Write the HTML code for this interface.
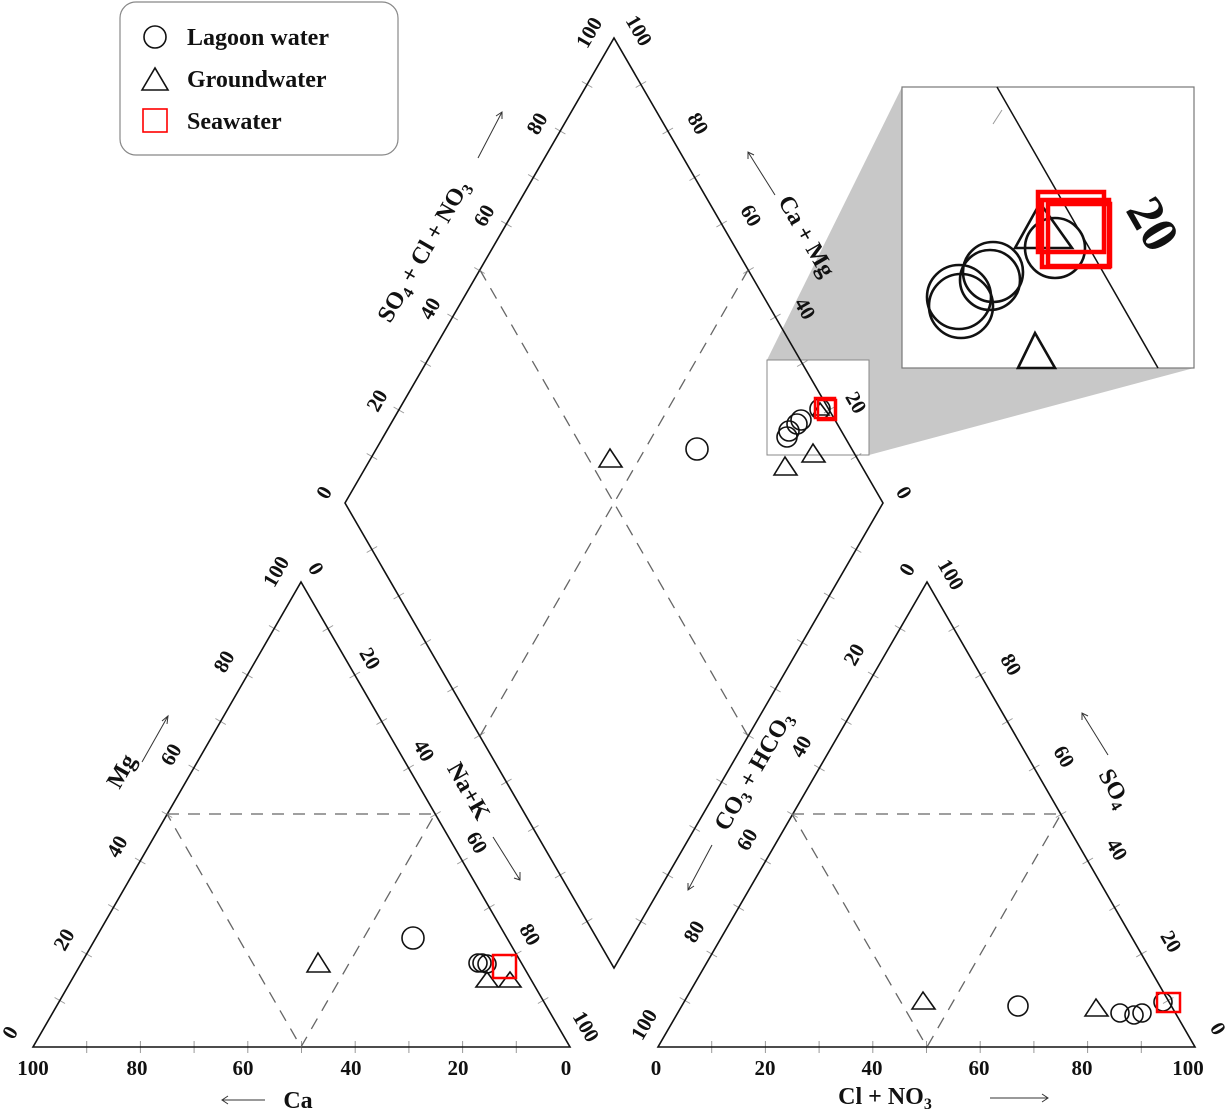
<!DOCTYPE html>
<html><head><meta charset="utf-8"><style>
html,body{margin:0;padding:0;background:#fff;}
svg{display:block;}
text{font-family:"Liberation Serif",serif;font-weight:bold;font-size:20px;fill:#111;}
.t{font-size:21px;}
</style></head><body>
<svg id="s" width="1228" height="1112" viewBox="0 0 1228 1112" xmlns="http://www.w3.org/2000/svg">
<!-- inset connector -->
<polygon points="767,360 902,87 1194,368 869,455" fill="#c8c8c8"/>
<rect x="767" y="360" width="102" height="95" fill="#fff" stroke="#888" stroke-width="1"/>
<rect x="902" y="87" width="292" height="281" fill="#fff" stroke="#777" stroke-width="1.2"/>
<line x1="997" y1="87" x2="1158" y2="368" stroke="#111" stroke-width="1.5"/>
<line x1="993" y1="124" x2="1002" y2="110" stroke="#999" stroke-width="1"/>
<g fill="none" stroke="#111" stroke-width="2.6">
<circle cx="959" cy="297" r="32"/><circle cx="961" cy="306" r="32"/>
<circle cx="990" cy="280" r="30"/><circle cx="993" cy="272" r="30"/>
<circle cx="1055" cy="248" r="30"/>
<polygon points="1018,368 1035,333 1055,368"/>
<polygon points="1015,248 1040,203 1072,248"/>
</g>
<g fill="none" stroke="#f00" stroke-width="4.5">
<rect x="1038" y="192" width="66" height="60"/><rect x="1042" y="200" width="67" height="67"/><rect x="1048" y="204" width="62" height="62"/>
</g>
<text x="1125" y="210" transform="rotate(60 1125 210)" style="font-size:52px">20</text>

<g id="ticks" stroke="#999" stroke-width="1"></g>
<!-- main outlines -->
<g fill="none" stroke="#111" stroke-width="1.6">
<polygon points="33,1047 570,1047 301,582"/>
<polygon points="658,1047 1195,1047 927,582"/>
<polygon points="345,503 614,38 883,503 614,968"/>
</g>
<g fill="none" stroke="#666" stroke-width="1.3" stroke-dasharray="12,9">
<polyline points="167,814 435,814 301,1047 167,814"/>
<polyline points="792,814 1061,814 927,1047 792,814"/>
<line x1="480" y1="270" x2="748" y2="736"/>
<line x1="748" y1="270" x2="480" y2="736"/>
</g>

<!-- legend -->
<rect x="120" y="2" width="278" height="153" rx="16" fill="#fff" stroke="#888" stroke-width="1.2"/>
<circle cx="155" cy="37" r="11" fill="none" stroke="#111" stroke-width="1.6"/>
<polygon points="142,90 155,68 168,90" fill="none" stroke="#111" stroke-width="1.6"/>
<rect x="143" y="109" width="24" height="23" fill="none" stroke="#f00" stroke-width="1.6"/>
<text x="187" y="45" style="font-size:24px">Lagoon water</text>
<text x="187" y="87" style="font-size:24px">Groundwater</text>
<text x="187" y="129" style="font-size:24px">Seawater</text>

<!-- data points -->
<g fill="none" stroke="#111" stroke-width="1.6">
<polygon points="599,467 610,449 622,467"/>
<circle cx="697" cy="449" r="11"/>
<polygon points="774,475 785,457 797,475"/>
<polygon points="802,462 813,444 825,462"/>
<circle cx="787" cy="437" r="10"/><circle cx="789" cy="431" r="10"/><circle cx="797" cy="424" r="10"/><circle cx="801" cy="420" r="10"/><circle cx="820" cy="409" r="10"/>
<polygon points="813,415 820,403 829,415"/>
<circle cx="413" cy="938" r="11"/>
<polygon points="307,972 318,953 330,972"/>
<circle cx="478" cy="963" r="9"/><circle cx="482" cy="963" r="9"/><circle cx="487" cy="964" r="9"/>
<polygon points="476,987 487,972 498,987"/><polygon points="499,987 510,972 521,987"/>
<polygon points="912,1009 923,992 935,1009"/>
<circle cx="1018" cy="1006" r="10"/>
<polygon points="1085,1016 1096,999 1108,1016"/>
<circle cx="1120" cy="1013" r="9"/><circle cx="1134" cy="1015" r="9"/><circle cx="1142" cy="1013" r="9"/><circle cx="1163" cy="1002" r="9"/>
</g>
<g fill="none" stroke="#f00" stroke-width="2.5">
<rect x="815" y="398" width="20" height="20"/><rect x="818" y="400" width="18" height="20"/>
<rect x="493" y="955" width="23" height="23"/>
<rect x="1157" y="993" width="23" height="19"/>
</g>

<!-- left triangle labels -->
<text class="t" x="33" y="1075" text-anchor="middle">100</text>
<text class="t" x="137" y="1075" text-anchor="middle">80</text>
<text class="t" x="243" y="1075" text-anchor="middle">60</text>
<text class="t" x="351" y="1075" text-anchor="middle">40</text>
<text class="t" x="458" y="1075" text-anchor="middle">20</text>
<text class="t" x="566" y="1075" text-anchor="middle">0</text>
<g text-anchor="middle">
<text class="t" transform="translate(16,1036) rotate(-60)">0</text>
<text class="t" transform="translate(70,943) rotate(-60)">20</text>
<text class="t" transform="translate(123,850) rotate(-60)">40</text>
<text class="t" transform="translate(177,758) rotate(-60)">60</text>
<text class="t" transform="translate(230,665) rotate(-60)">80</text>
<text class="t" transform="translate(282,575) rotate(-60)">100</text>
<text class="t" transform="translate(310,572) rotate(60)">0</text>
<text class="t" transform="translate(364,662) rotate(60)">20</text>
<text class="t" transform="translate(418,754) rotate(60)">40</text>
<text class="t" transform="translate(471,846) rotate(60)">60</text>
<text class="t" transform="translate(524,938) rotate(60)">80</text>
<text class="t" transform="translate(580,1030) rotate(60)">100</text>
<!-- right triangle -->
<text class="t" x="656" y="1075">0</text>
<text class="t" x="765" y="1075">20</text>
<text class="t" x="872" y="1075">40</text>
<text class="t" x="979" y="1075">60</text>
<text class="t" x="1082" y="1075">80</text>
<text class="t" x="1188" y="1075">100</text>
<text class="t" transform="translate(650,1028) rotate(-60)">100</text>
<text class="t" transform="translate(700,935) rotate(-60)">80</text>
<text class="t" transform="translate(753,843) rotate(-60)">60</text>
<text class="t" transform="translate(807,750) rotate(-60)">40</text>
<text class="t" transform="translate(860,658) rotate(-60)">20</text>
<text class="t" transform="translate(913,573) rotate(-60)">0</text>
<text class="t" transform="translate(945,578) rotate(60)">100</text>
<text class="t" transform="translate(1005,668) rotate(60)">80</text>
<text class="t" transform="translate(1058,760) rotate(60)">60</text>
<text class="t" transform="translate(1111,853) rotate(60)">40</text>
<text class="t" transform="translate(1165,945) rotate(60)">20</text>
<text class="t" transform="translate(1212,1032) rotate(60)">0</text>
<!-- diamond -->
<text class="t" transform="translate(330,496) rotate(-60)">0</text>
<text class="t" transform="translate(383,404) rotate(-60)">20</text>
<text class="t" transform="translate(436,312) rotate(-60)">40</text>
<text class="t" transform="translate(490,219) rotate(-60)">60</text>
<text class="t" transform="translate(543,127) rotate(-60)">80</text>
<text class="t" transform="translate(595,36) rotate(-60)">100</text>
<text class="t" transform="translate(633,34) rotate(60)">100</text>
<text class="t" transform="translate(692,127) rotate(60)">80</text>
<text class="t" transform="translate(745,219) rotate(60)">60</text>
<text class="t" transform="translate(799,312) rotate(60)">40</text>
<text class="t" transform="translate(850,406) rotate(60)">20</text>
<text class="t" transform="translate(898,496) rotate(60)">0</text>
</g>
<!-- axis titles -->
<g text-anchor="middle">
<text style="font-size:24px" transform="translate(128,775) rotate(-60)">Mg</text>
<text style="font-size:24px" transform="translate(462,795) rotate(60)">Na+K</text>
<text style="font-size:24px" x="298" y="1108">Ca</text>
<text style="font-size:24px" x="885" y="1104">Cl + NO<tspan font-size="16" dy="5">3</tspan></text>
<text style="font-size:24px" transform="translate(760,775) rotate(-60)">CO<tspan font-size="16" dy="5">3</tspan><tspan dy="-5"> + HCO</tspan><tspan font-size="16" dy="5">3</tspan></text>
<text style="font-size:24px" transform="translate(1108,792) rotate(60)">SO<tspan font-size="16" dy="5">4</tspan></text>
<text style="font-size:24px" transform="translate(430,255) rotate(-60)">SO<tspan font-size="16" dy="5">4</tspan><tspan dy="-5"> + Cl + NO</tspan><tspan font-size="16" dy="5">3</tspan></text>
<text style="font-size:24px" transform="translate(800,240) rotate(60)">Ca + Mg</text>
</g>
<!-- arrows -->
<g stroke="#333" stroke-width="1" fill="none">
<line x1="142" y1="762" x2="168" y2="716"/><polyline points="162,721 168,716 167,724"/>
<line x1="493" y1="837" x2="520" y2="880"/><polyline points="514,878 520,880 520,872"/>
<line x1="265" y1="1100" x2="222" y2="1100"/><polyline points="228,1096 222,1100 228,1104"/>
<line x1="990" y1="1098" x2="1048" y2="1098"/><polyline points="1042,1094 1048,1098 1042,1102"/>
<line x1="712" y1="845" x2="688" y2="890"/><polyline points="688,883 688,890 694,886"/>
<line x1="1108" y1="755" x2="1082" y2="713"/><polyline points="1082,720 1082,713 1088,716"/>
<line x1="478" y1="158" x2="502" y2="112"/><polyline points="496,116 502,112 502,119"/>
<line x1="775" y1="195" x2="748" y2="152"/><polyline points="748,159 748,152 754,155"/>
</g>
</svg>
<script>
(function(){
var g=document.getElementById('ticks');
function seg(a,b){for(var i=1;i<10;i++){var t=i/10,x=a[0]+(b[0]-a[0])*t,y=a[1]+(b[1]-a[1])*t;
var dx=b[0]-a[0],dy=b[1]-a[1],L=Math.hypot(dx,dy);dx/=L;dy/=L;
var l=document.createElementNS('http://www.w3.org/2000/svg','line');
l.setAttribute('x1',x-dy*6);l.setAttribute('y1',y+dx*6);l.setAttribute('x2',x+dy*6);l.setAttribute('y2',y-dx*6);g.appendChild(l);}}
var T=[[[33,1047],[570,1047],[301,582]],[[658,1047],[1195,1047],[927,582]],[[345,503],[614,38],[883,503],[614,968]]];
T.forEach(function(p){for(var i=0;i<p.length;i++)seg(p[i],p[(i+1)%p.length]);});
})();
</script>
</body></html>
